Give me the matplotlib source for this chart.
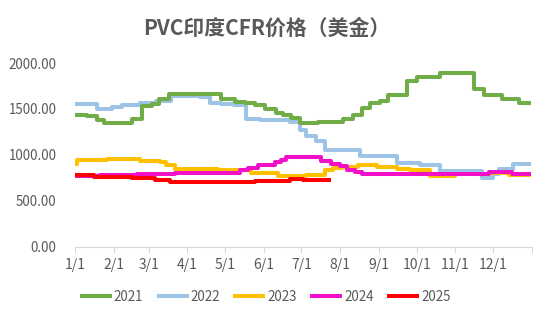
import pandas as pd
import matplotlib
matplotlib.use("Agg")
import matplotlib.pyplot as plt

plt.rcParams['font.family'] = ['Noto Sans CJK SC', 'DejaVu Sans']

# step points: (month-day, price in USD)
dates_2021 = ["01-01", "01-11", "01-19", "01-24", "02-16", "02-24", "03-04", "03-09", "03-17",
              "04-28", "05-09", "05-17", "05-25", "06-02", "06-11", "06-16", "06-23", "06-30",
              "07-14", "08-03", "08-11", "08-18", "08-25", "09-02", "09-08", "09-23", "10-01",
              "10-20", "11-16", "11-24", "12-08", "12-22", "12-31"]
vals_2021 = [1440, 1420, 1385, 1345, 1395, 1530, 1550, 1605, 1660,
             1610, 1580, 1560, 1540, 1500, 1460, 1440, 1400, 1345,
             1355, 1390, 1430, 1510, 1560, 1590, 1650, 1800, 1845,
             1890, 1715, 1650, 1605, 1560, 1560]

dates_2022 = ["01-01", "01-19", "01-31", "02-08", "02-22", "03-07", "03-19", "04-01", "04-11",
              "04-19", "04-28", "05-08", "05-18", "05-29", "06-22", "06-30", "07-05", "07-13",
              "07-20", "08-17", "09-15", "10-04", "10-20", "11-22", "12-01", "12-06", "12-17", "12-31"]
vals_2022 = [1550, 1500, 1520, 1545, 1565, 1590, 1645, 1640, 1630,
             1565, 1550, 1540, 1390, 1380, 1360, 1275, 1205, 1150,
             1055, 990, 910, 890, 825, 750, 790, 845, 900, 900]

dates_2023 = ["01-01", "01-03", "01-27", "02-22", "03-10", "03-15", "03-22", "04-25", "05-22",
              "06-12", "06-30", "07-05", "07-20", "07-26", "08-02", "08-15", "08-30", "09-15",
              "09-26", "10-12", "11-01", "11-28", "12-14", "12-31"]
vals_2023 = [900, 940, 950, 930, 920, 890, 850, 830, 800,
             765, 770, 785, 830, 855, 870, 890, 865, 845,
             830, 765, 790, 805, 780, 780]

dates_2024 = ["01-01", "01-21", "02-20", "03-22", "05-13", "05-19", "05-27", "06-10", "06-15",
              "06-19", "07-17", "07-25", "08-01", "08-06", "08-13", "08-18", "11-28", "12-16", "12-31"]
vals_2024 = [770, 780, 790, 800, 830, 860, 890, 920, 945,
             975, 930, 905, 880, 840, 810, 790, 815, 790, 790]

dates_2025 = ["01-01", "01-16", "02-16", "03-06", "03-18", "05-25", "06-22", "07-02", "07-25"]
vals_2025 = [780, 760, 745, 725, 705, 715, 735, 725, 725]

years = ["2021", "2022", "2023", "2024", "2025"]
colors = ["#70AD47", "#9DC3E6", "#FFC000", "#F20FC8", "#FF0000"]
series = [(dates_2021, vals_2021), (dates_2022, vals_2022), (dates_2023, vals_2023),
          (dates_2024, vals_2024), (dates_2025, vals_2025)]
zorders = [3, 2, 4, 5, 6]

month_ticks = ["01-01", "02-01", "03-01", "04-01", "05-01", "06-01",
               "07-01", "08-01", "09-01", "10-01", "11-01", "12-01"]
month_labels = ["1/1", "2/1", "3/1", "4/1", "5/1", "6/1",
                "7/1", "8/1", "9/1", "10/1", "11/1", "12/1"]


def day_of_year(md):
    return pd.to_datetime("2021-" + pd.Series(md)).dt.dayofyear.values - 1


fig = plt.figure(figsize=(5.5, 3.22), dpi=100)
ax = fig.add_axes([0.136, 0.234, 0.831, 0.570])

for yr, col, (d, v), z in zip(years, colors, series, zorders):
    ax.plot(day_of_year(d), v, drawstyle="steps-post", color=col, lw=2.9,
            label=yr, zorder=z, solid_capstyle="butt")

ax.set_xlim(0, 365)
ax.set_ylim(0, 2000)
ticks = list(day_of_year(month_ticks)) + [365]
ax.set_xticks(ticks)
ax.set_xticklabels(month_labels + [""])
ax.set_yticks([0, 500, 1000, 1500, 2000])
ax.set_yticklabels(["0.00", "500.00", "1000.00", "1500.00", "2000.00"])

for s in ["top", "right", "left"]:
    ax.spines[s].set_visible(False)
ax.spines["bottom"].set_color("#D9D9D9")
ax.tick_params(axis="x", colors="#D9D9D9", length=4, labelcolor="#595959",
               labelsize=10, pad=4)
ax.tick_params(axis="y", length=0, labelcolor="#595959", labelsize=9.6, pad=13)

fig.text(0.485, 0.913, "PVC印度CFR价格（美金）", ha="center", va="center",
         fontsize=15, fontweight="bold", color="#595959")

leg = fig.legend(loc="center", bbox_to_anchor=(0.482, 0.078), ncol=5, frameon=False,
                 fontsize=9.6, handlelength=2.4, columnspacing=1.0, handletextpad=0.15)
for t in leg.get_texts():
    t.set_color("#595959")

fig.savefig("out.png", dpi=100)
